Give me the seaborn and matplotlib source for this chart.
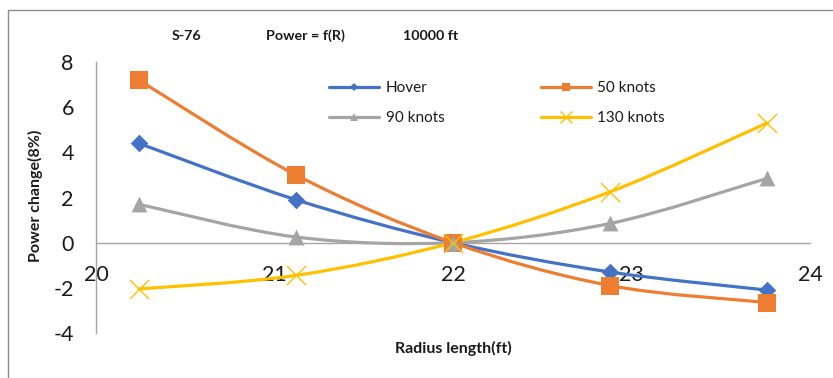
import numpy as np
import pandas as pd
import matplotlib
matplotlib.use("Agg")
import matplotlib.pyplot as plt
from matplotlib.path import Path
from matplotlib.patches import PathPatch, Rectangle
from matplotlib.lines import Line2D
import seaborn as sns

# Rotor radius (ft) and relative power change for each flight condition
radius = [20.24, 21.12, 22.0, 22.88, 23.76]
hover = [4.4, 1.9, 0.0, -1.3, -2.1]
knots_50 = [7.2, 3.0, 0.0, -1.9, -2.65]
knots_90 = [1.7, 0.25, 0.0, 0.85, 2.85]
knots_130 = [-2.05, -1.45, 0.0, 2.25, 5.3]
series_names = ["Hover", "50 knots", "90 knots", "130 knots"]
x_ticks = [20, 21, 22, 23, 24]
y_ticks = [-4, -2, 0, 2, 4, 6, 8]

df = pd.DataFrame({
    "radius": radius * 4,
    "power": hover + knots_50 + knots_90 + knots_130,
    "series": sum([[n] * len(radius) for n in series_names], []),
})

colors = {"Hover": "#4472C4", "50 knots": "#ED7D31",
          "90 knots": "#A5A5A5", "130 knots": "#FFC000"}
markers = {"Hover": "D", "50 knots": "s", "90 knots": "^", "130 knots": "x"}
msizes = {"Hover": 80, "50 knots": 150, "90 knots": 130, "130 knots": 190}
small = {"Hover": 4, "50 knots": 6, "90 knots": 6, "130 knots": 8}

sns.set_theme(style="white")
plt.rcParams["font.family"] = ["Lato", "DejaVu Sans"]

W, H = 833, 378
fig = plt.figure(figsize=(W / 100, H / 100), dpi=100)
ax = fig.add_axes([96 / W, 1 - 333 / H, (810 - 96) / W, (333 - 62) / H])

# chart border
fig.patches.append(Rectangle((8 / W, -0.05), 1.0, 1 - 10 / H + 0.05,
                             transform=fig.transFigure, fill=False,
                             edgecolor="#8c8c8c", lw=1.0))


def smooth_path(xs, ys):
    """Catmull-Rom style Bezier through the points."""
    pts = np.column_stack([xs, ys])
    verts = [pts[0]]
    codes = [Path.MOVETO]
    n = len(pts)
    for i in range(n - 1):
        p0 = pts[i - 1] if i > 0 else pts[i]
        p1, p2 = pts[i], pts[i + 1]
        p3 = pts[i + 2] if i + 2 < n else pts[i + 1]
        c1 = p1 + (p2 - p0) / 6.0
        c2 = p2 - (p3 - p1) / 6.0
        verts += [c1, c2, p2]
        codes += [Path.CURVE4] * 3
    return Path(verts, codes)


for name in series_names:
    sub = df[df["series"] == name]
    ax.add_patch(PathPatch(smooth_path(sub["radius"].values, sub["power"].values),
                           fill=False, edgecolor=colors[name], lw=2.3,
                           capstyle="round", joinstyle="round", zorder=3))

for name in series_names:
    sub = df[df["series"] == name]
    kw = dict(linewidth=0) if name != "130 knots" else dict(linewidth=1.0)
    sns.scatterplot(data=sub, x="radius", y="power", ax=ax, color=colors[name],
                    marker=markers[name], s=msizes[name], zorder=4,
                    legend=False, **kw)

ax.set_xlim(20, 24)
ax.set_ylim(-4, 8)
ax.set_xticks(x_ticks)
ax.set_yticks(y_ticks)
ax.set_xticklabels([str(t) for t in x_ticks])
ax.set_yticklabels([str(t) for t in y_ticks])
ax.tick_params(axis="both", length=0, labelsize=15.5, colors="#1a1a1a")
ax.tick_params(axis="x", pad=16)
ax.tick_params(axis="y", pad=16)

for s in ["top", "right"]:
    ax.spines[s].set_visible(False)
ax.spines["bottom"].set_position(("data", 0))
ax.spines["bottom"].set_color("#a6a6a6")
ax.spines["left"].set_color("#a6a6a6")
ax.spines["bottom"].set_linewidth(1.0)
ax.spines["left"].set_linewidth(1.0)
ax.set_xlabel("")
ax.set_ylabel("")

fig.text(453 / W, 1 - 348 / H, "Radius length(ft)", ha="center", va="center",
         fontsize=11.5, fontweight="bold", color="#1a1a1a")
fig.text(35 / W, 1 - 196 / H, "Power change(8%)", ha="center", va="center",
         rotation=90, fontsize=11.5, fontweight="bold", color="#1a1a1a")

for txt, xc in [("S-76", 187), ("Power = f(R)", 305), ("10000 ft", 431)]:
    fig.text(xc / W, 1 - 36 / H, txt, ha="center", va="center",
             fontsize=10.3, fontweight="bold", color="#1a1a1a")

handles = [Line2D([], [], color=colors[n], lw=2.3, marker=markers[n],
                  markersize=small[n], markeredgewidth=1.0 if n == "130 knots" else 0)
           for n in series_names]
# order for two-column layout: Hover, 90 knots | 50 knots, 130 knots
order = [0, 2, 1, 3]
leg = ax.legend([handles[i] for i in order], [series_names[i] for i in order],
                ncol=2, frameon=False, loc="upper left",
                bbox_to_anchor=(329 / W, 1 - 81 / H), bbox_transform=fig.transFigure,
                handlelength=3.3, handletextpad=0.4, columnspacing=6.3,
                labelspacing=1.05, fontsize=11, borderpad=0, borderaxespad=0)
for t in leg.get_texts():
    t.set_color("#1a1a1a")

fig.savefig("out.png", dpi=100)
